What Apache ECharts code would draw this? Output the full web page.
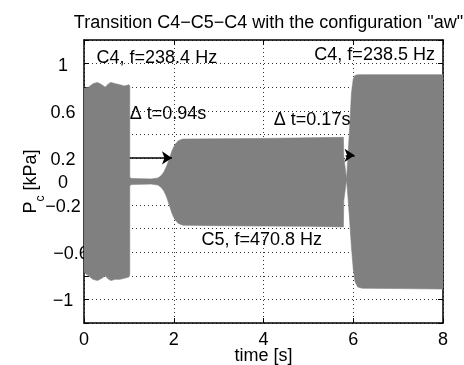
<!DOCTYPE html>
<html><head><meta charset="utf-8">
<script src="https://cdn.jsdelivr.net/npm/echarts@6/dist/echarts.min.js"></script>
<style>html,body{margin:0;padding:0;background:#fff}#c{width:464px;height:365px}</style>
</head><body><div id="c"></div>
<script>
// Envelope of the pressure signal P_c (kPa) versus time (s)
const time  = [0, 0.1, 0.2, 0.3, 0.4, 0.47, 0.55, 0.6, 0.7, 0.8, 0.9, 1.0, 1.02,
               1.02, 1.06, 1.5, 1.65, 1.72, 1.78, 1.84, 1.9, 1.96, 2.02, 2.1, 2.2, 3.0, 4.0, 5.0, 5.78,
               5.79, 5.85, 5.88, 5.92, 5.96, 6.0, 6.04, 6.1, 6.2, 7.0, 8.0];
const upper = [0.79, 0.80, 0.83, 0.84, 0.82, 0.80, 0.83, 0.84, 0.83, 0.82, 0.81, 0.82, 0.81,
               0.035, 0.025, 0.022, 0.03, 0.05, 0.08, 0.13, 0.19, 0.26, 0.31, 0.345, 0.36, 0.362, 0.365, 0.37, 0.375,
               0.21, 0.02, 0.2, 0.46, 0.75, 0.87, 0.9, 0.905, 0.906, 0.906, 0.906];
const lower = [-0.77, -0.80, -0.83, -0.84, -0.82, -0.80, -0.83, -0.84, -0.83, -0.83, -0.82, -0.81, -0.79,
               -0.035, -0.025, -0.022, -0.03, -0.05, -0.08, -0.13, -0.2, -0.27, -0.32, -0.355, -0.37, -0.375, -0.378, -0.38, -0.385,
               -0.16, 0.015, -0.12, -0.33, -0.56, -0.74, -0.85, -0.895, -0.905, -0.908, -0.912];

const xTickValues = [0, 2, 4, 6, 8];
const yTickLabels = { '1': '1', '0.6': '0.6', '0.2': '0.2', '0': '0', '-0.2': '\u22120.2', '-0.6': '\u22120.6', '-1': '\u22121' };

const arrows = [
  { from: [1.02, 0.2], to: [1.96, 0.2] },
  { from: [5.83, 0.222], to: [6.03, 0.222] }
];
const annotations = [
  { text: 'C4, f=238.4 Hz', at: [0.28, 1.045], align: 'left' },
  { text: 'C4, f=238.5 Hz', at: [7.82, 1.07], align: 'right' },
  { text: '\u0394 t=0.94s', at: [1.02, 0.573], align: 'left' },
  { text: '\u0394 t=0.17s', at: [4.23, 0.52], align: 'left' },
  { text: 'C5, f=470.8 Hz', at: [3.96, -0.496], align: 'center' }
];

const FONT = 'Liberation Sans, Arial, Helvetica, sans-serif';
const FS = 18;
const chart = echarts.init(document.getElementById('c'), null, { renderer: 'canvas' });

const axisLineStyle = { color: '#000', width: 1.5 };
const tickStyle = { show: true, inside: true, length: 5, lineStyle: { color: '#000', width: 1 } };
const gridLine = { show: true, lineStyle: { color: '#333', width: 1, type: [1, 3] } };

function yLabel(v) {
  const k = String(Math.round(v * 10) / 10);
  if (!(k in yTickLabels)) return '';
  if (k === '-0.6') return '{cut|' + yTickLabels[k] + '}';
  return yTickLabels[k];
}

function renderEnvelope(params, api) {
  if (params.dataIndex !== 0) return null;
  const pts = [];
  for (let i = 0; i < time.length; i++) pts.push(api.coord([time[i], upper[i]]));
  for (let i = time.length - 1; i >= 0; i--) pts.push(api.coord([time[i], lower[i]]));
  return { type: 'polygon', shape: { points: pts }, style: { fill: '#808080', stroke: '#808080', lineWidth: 0.6 } };
}

chart.setOption({
  animation: false,
  backgroundColor: '#fff',
  textStyle: { fontFamily: FONT },
  title: {
    text: 'Transition C4\u2212C5\u2212C4 with the configuration "aw"',
    left: 263.5, top: 9, textAlign: 'center',
    textStyle: { fontFamily: FONT, fontSize: FS, fontWeight: 'normal', color: '#000' }
  },
  grid: { left: 84, right: 21, top: 40, bottom: 42, containLabel: false, outerBoundsMode: 'none' },
  xAxis: [
    {
      type: 'value', min: 0, max: 8, interval: 2, position: 'bottom',
      axisLine: { show: true, onZero: false, lineStyle: axisLineStyle },
      axisTick: tickStyle,
      axisLabel: { color: '#000', fontSize: FS, fontFamily: FONT, margin: 8,
        formatter: v => xTickValues.includes(Math.round(v)) ? String(Math.round(v)) : '' },
      splitLine: gridLine,
      name: 'time [s]', nameLocation: 'middle', nameGap: 24, nameMoveOverlap: false,
      nameTextStyle: { color: '#000', fontSize: FS, fontFamily: FONT }
    },
    {
      type: 'value', min: 0, max: 8, interval: 2, position: 'top',
      axisLine: { show: true, onZero: false, lineStyle: axisLineStyle },
      axisTick: tickStyle,
      axisLabel: { show: false }, splitLine: { show: false }
    }
  ],
  yAxis: [
    {
      type: 'value', min: -1.2, max: 1.2, interval: 0.2, position: 'left',
      axisLine: { show: true, onZero: false, lineStyle: axisLineStyle },
      axisTick: tickStyle,
      axisLabel: { color: '#000', fontSize: FS, fontFamily: FONT, margin: 21, align: 'center',
        padding: [4, 0, 0, 0],
        formatter: yLabel,
        rich: { cut: { fontSize: FS, fontFamily: FONT, color: '#000', padding: [0, 0, 0, 16] } } },
      splitLine: gridLine,
      name: '{a|P}{b|c}{a| [kPa]}', nameLocation: 'middle', nameGap: 44, nameRotate: 90, nameMoveOverlap: false,
      nameTextStyle: {
        color: '#000', fontFamily: FONT,
        rich: {
          a: { fontSize: FS, lineHeight: 18, verticalAlign: 'top', fontFamily: FONT, color: '#000' },
          b: { fontSize: 12, lineHeight: 12, verticalAlign: 'top', padding: [13, 0, 0, 0], fontFamily: FONT, color: '#000' }
        }
      }
    },
    {
      type: 'value', min: -1.2, max: 1.2, interval: 0.2, position: 'right',
      axisLine: { show: true, onZero: false, lineStyle: axisLineStyle },
      axisTick: tickStyle,
      axisLabel: { show: false }, splitLine: { show: false }
    }
  ],
  series: [
    {
      name: 'envelope', type: 'custom', clip: true, silent: true,
      data: time.map((t, i) => [t, upper[i], lower[i]]),
      encode: { x: 0, y: [1, 2] },
      renderItem: renderEnvelope
    },
    {
      name: 'arrows', type: 'line', data: [], silent: true,
      markLine: {
        silent: true, symbol: ['none', 'arrow'], symbolSize: 10, precision: 3,
        label: { show: false },
        lineStyle: { color: '#000', width: 1.5, type: 'solid' },
        emphasis: { disabled: true },
        data: arrows.map(a => [{ coord: a.from }, { coord: a.to }])
      }
    },
    {
      name: 'notes', type: 'scatter', symbolSize: 1, silent: true,
      itemStyle: { color: 'rgba(0,0,0,0)' },
      data: annotations.map(a => ({
        value: a.at,
        label: { show: true, position: 'inside', formatter: a.text, align: a.align, verticalAlign: 'middle',
          color: '#000', fontSize: FS, fontFamily: FONT, opacity: 1 }
      }))
    }
  ]
});
</script>
</body></html>
